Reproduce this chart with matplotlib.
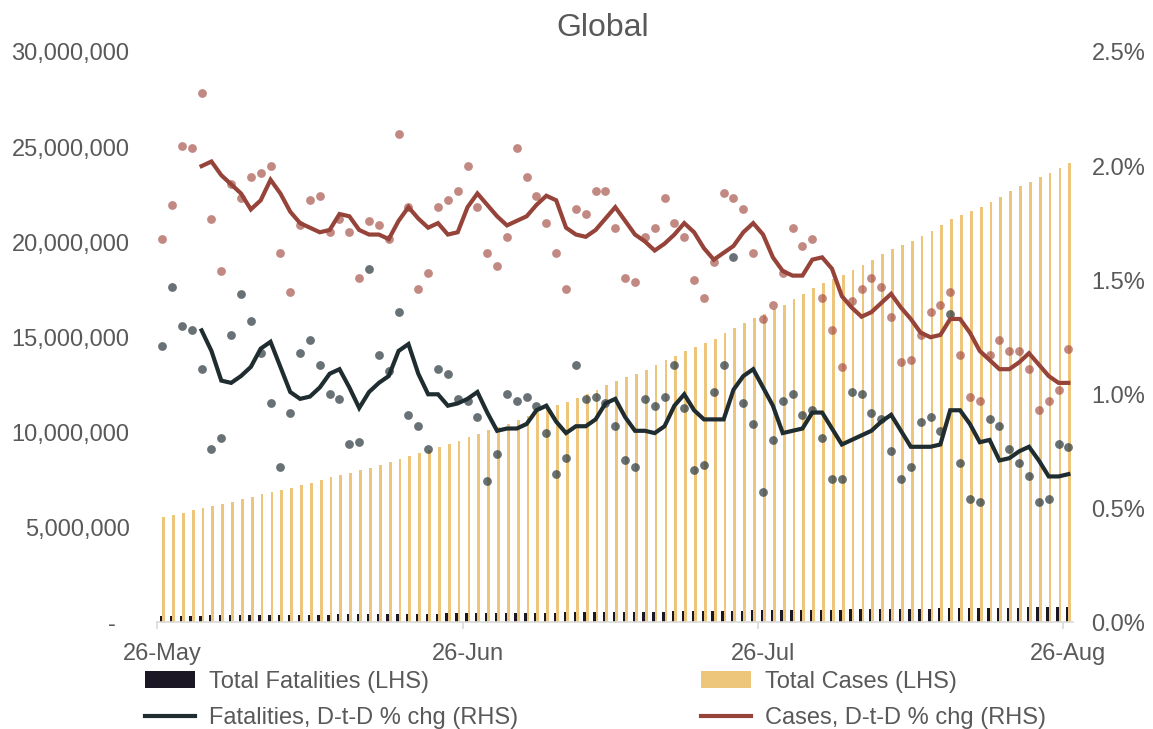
import numpy as np
import pandas as pd
import matplotlib
matplotlib.use('Agg')
import matplotlib.pyplot as plt
from matplotlib.ticker import FuncFormatter, FixedLocator

plt.rcParams['font.family'] = ['Liberation Sans', 'DejaVu Sans']

# %% data (26-May-2020 .. 26-Aug-2020)
dates = pd.date_range('2020-05-26', '2020-08-26', freq='D')

total_cases_m = [5.54, 5.66, 5.76, 5.90, 6.03, 6.15, 6.24, 6.36, 6.48, 6.62,
                 6.76, 6.88, 6.99, 7.09, 7.24, 7.36, 7.50, 7.64, 7.76, 7.88,
                 8.03, 8.15, 8.29, 8.43, 8.61, 8.76, 8.90, 9.08, 9.22, 9.38,
                 9.55, 9.75, 9.92, 10.10, 10.26, 10.45, 10.66, 10.87, 11.06, 11.27,
                 11.45, 11.59, 11.80, 12.03, 12.24, 12.48, 12.71, 12.89, 13.08, 13.29,
                 13.54, 13.78, 14.03, 14.25, 14.48, 14.69, 14.92, 15.20, 15.50, 15.76,
                 16.03, 16.24, 16.46, 16.71, 17.01, 17.29, 17.59, 17.85, 18.06, 18.25,
                 18.52, 18.78, 19.08, 19.38, 19.62, 19.85, 20.08, 20.34, 20.61, 20.90,
                 21.20, 21.45, 21.66, 21.87, 22.13, 22.40, 22.68, 22.94, 23.18, 23.41,
                 23.62, 23.88, 24.17]

total_fatalities_k = [347, 352, 357, 361, 365, 368, 371, 376, 381, 386,
                      391, 395, 397, 401, 406, 411, 415, 419, 424, 427,
                      430, 437, 442, 447, 453, 457, 461, 465, 470, 475,
                      480, 484, 489, 492, 495, 500, 505, 510, 515, 519,
                      523, 526, 532, 537, 543, 548, 553, 557, 560, 566,
                      571, 577, 583, 589, 593, 597, 603, 610, 620, 625,
                      631, 635, 640, 646, 652, 658, 664, 670, 674, 678,
                      685, 692, 698, 704, 710, 714, 719, 725, 732, 738,
                      748, 753, 757, 761, 768, 775, 781, 786, 791, 795,
                      800, 806, 812]

# daily % change (dots)
cases_pct = [1.68, 1.83, 2.09, 2.08, 2.32, 1.77, 1.54, 1.92, 1.86, 1.95,
             1.97, 2.00, 1.62, 1.45, 1.74, 1.85, 1.87, 1.71, 1.77, 1.71,
             1.51, 1.76, 1.74, 1.68, 2.14, 1.82, 1.46, 1.53, 1.82, 1.85,
             1.89, 2.00, 1.82, 1.62, 1.56, 1.69, 2.08, 1.95, 1.87, 1.75,
             1.62, 1.46, 1.81, 1.79, 1.89, 1.89, 1.73, 1.51, 1.49, 1.69,
             1.73, 1.86, 1.75, 1.69, 1.50, 1.42, 1.58, 1.88, 1.86, 1.81,
             1.62, 1.33, 1.39, 1.53, 1.73, 1.65, 1.68, 1.42, 1.28, 1.12,
             1.41, 1.46, 1.51, 1.47, 1.34, 1.14, 1.15, 1.26, 1.36, 1.39,
             1.45, 1.17, 0.99, 0.97, 1.17, 1.24, 1.19, 1.19, 1.11, 0.93,
             0.97, 1.02, 1.20]

fatal_pct = [1.21, 1.47, 1.30, 1.28, 1.11, 0.76, 0.81, 1.26, 1.44, 1.32,
             1.18, 0.96, 0.68, 0.92, 1.18, 1.24, 1.13, 1.00, 0.98, 0.78,
             0.79, 1.55, 1.17, 1.10, 1.36, 0.91, 0.86, 0.76, 1.11, 1.09,
             0.98, 0.97, 0.90, 0.62, 0.74, 1.00, 0.97, 0.99, 0.95, 0.83,
             0.65, 0.72, 1.13, 0.98, 0.99, 0.96, 0.86, 0.71, 0.68, 0.98,
             0.95, 0.99, 1.13, 0.94, 0.67, 0.69, 1.01, 1.13, 1.60, 0.96,
             0.87, 0.57, 0.80, 0.97, 1.00, 0.91, 0.93, 0.81, 0.63, 0.63,
             1.01, 1.00, 0.92, 0.89, 0.75, 0.63, 0.68, 0.88, 0.90, 0.84,
             1.35, 0.70, 0.54, 0.53, 0.89, 0.86, 0.76, 0.70, 0.64, 0.53,
             0.54, 0.78, 0.77]

# smoothed lines, start on the 5th day (31-May)
cases_line = [2.00, 2.02, 1.96, 1.92, 1.88, 1.81, 1.85, 1.94, 1.88, 1.80,
              1.75, 1.73, 1.71, 1.72, 1.79, 1.78, 1.72, 1.70, 1.70, 1.68,
              1.76, 1.82, 1.77, 1.73, 1.75, 1.70, 1.71, 1.82, 1.88, 1.83,
              1.78, 1.74, 1.76, 1.78, 1.83, 1.87, 1.85, 1.73, 1.70, 1.69,
              1.72, 1.77, 1.82, 1.76, 1.70, 1.67, 1.63, 1.66, 1.70, 1.75,
              1.71, 1.64, 1.59, 1.62, 1.65, 1.71, 1.75, 1.70, 1.60, 1.54,
              1.52, 1.52, 1.59, 1.60, 1.55, 1.43, 1.38, 1.34, 1.36, 1.40,
              1.44, 1.38, 1.33, 1.27, 1.25, 1.26, 1.33, 1.33, 1.27, 1.19,
              1.15, 1.11, 1.11, 1.14, 1.18, 1.13, 1.08, 1.05, 1.05]

fatal_line = [1.28, 1.19, 1.06, 1.05, 1.08, 1.12, 1.20, 1.23, 1.12, 1.01,
              0.98, 0.99, 1.03, 1.09, 1.11, 1.03, 0.94, 1.01, 1.05, 1.08,
              1.19, 1.22, 1.09, 1.00, 1.00, 0.95, 0.96, 0.98, 1.01, 0.92,
              0.84, 0.85, 0.85, 0.87, 0.93, 0.95, 0.88, 0.83, 0.86, 0.86,
              0.89, 0.96, 0.98, 0.90, 0.84, 0.84, 0.83, 0.86, 0.95, 1.00,
              0.93, 0.89, 0.89, 0.89, 1.02, 1.08, 1.11, 1.03, 0.95, 0.83,
              0.84, 0.85, 0.92, 0.92, 0.85, 0.78, 0.80, 0.82, 0.84, 0.88,
              0.91, 0.84, 0.77, 0.77, 0.77, 0.78, 0.93, 0.93, 0.87, 0.79,
              0.80, 0.71, 0.72, 0.75, 0.77, 0.71, 0.64, 0.64, 0.65]

tick_dates = ['2020-05-26', '2020-06-26', '2020-07-26', '2020-08-26']

# %%
txt = '#595959'
c_case_bar = '#EDC67B'
c_fat_bar = '#1B1725'
c_case_line = '#96433A'
c_fat_line = '#1F2D31'

x = np.arange(len(dates))
x_line = x[len(x) - len(cases_line):]

fig = plt.figure(figsize=(11.53, 7.29), dpi=100)
ax = fig.add_axes([0.1364, 0.1461, 0.7945, 0.7826])
ax2 = ax.twinx()

b_fat = ax.bar(x - 0.12, np.array(total_fatalities_k) * 1e3, width=0.24,
               color=c_fat_bar, label='Total Fatalities (LHS)')
b_case = ax.bar(x + 0.14, np.array(total_cases_m) * 1e6, width=0.28,
                color=c_case_bar, label='Total Cases (LHS)')

ax2.scatter(x, fatal_pct, s=40, color='#2E3B40', alpha=0.72, linewidths=0, zorder=2)
ax2.scatter(x, cases_pct, s=40, color='#A2493F', alpha=0.65, linewidths=0, zorder=2)
l_fat, = ax2.plot(x_line, fatal_line, color=c_fat_line, lw=3, zorder=3,
                  solid_joinstyle='miter', label='Fatalities, D-t-D % chg (RHS)')
l_case, = ax2.plot(x_line, cases_line, color=c_case_line, lw=3, zorder=3,
                   solid_joinstyle='miter', label='Cases, D-t-D % chg (RHS)')

ax.set_xlim(-0.5, len(x) - 0.5)
ax.set_ylim(0, 30e6)
ax2.set_ylim(0, 2.5)
ax.set_yticks(np.arange(0, 30e6 + 1, 5e6))
ax2.set_yticks(np.arange(0, 2.51, 0.5))
ax.yaxis.set_major_formatter(FuncFormatter(lambda v, p: '-  ' if v == 0 else f'{v:,.0f}'))
ax2.yaxis.set_major_formatter(FuncFormatter(lambda v, p: f'{v:.1f}%'))

tick_pos = [list(dates).index(pd.Timestamp(d)) for d in tick_dates]
ax.set_xticks(tick_pos)
ax.set_xticklabels([pd.Timestamp(d).strftime('%d-%b') for d in tick_dates])
ax.xaxis.set_minor_locator(FixedLocator([p - 0.5 for p in tick_pos]))

for a in (ax, ax2):
    for s in a.spines.values():
        s.set_visible(False)
ax.spines['bottom'].set_visible(True)
ax.spines['bottom'].set_color('#D9D9D9')
ax.spines['bottom'].set_linewidth(1.2)

ax.tick_params(axis='x', which='major', length=0, pad=15, labelsize=17, labelcolor=txt)
ax.tick_params(axis='x', which='minor', length=5, width=1.2, color='#D9D9D9', direction='out')
ax.tick_params(axis='y', length=0, pad=20, labelsize=17, labelcolor=txt)
ax2.tick_params(axis='y', length=0, pad=13, labelsize=17, labelcolor=txt)

fig.text(0.523, 0.962, 'Global', ha='center', va='center', fontsize=23, color=txt)

fig.legend([b_fat, l_fat, b_case, l_case],
           [b_fat.get_label(), l_fat.get_label(), b_case.get_label(), l_case.get_label()],
           loc='upper left', bbox_to_anchor=(0.126, 0.080), ncol=2, frameon=False,
           fontsize=17, labelcolor=txt, handlelength=2.1, handletextpad=0.6,
           columnspacing=7.75, labelspacing=0.6, borderpad=0, borderaxespad=0)

fig.savefig('out.png', dpi=100)
